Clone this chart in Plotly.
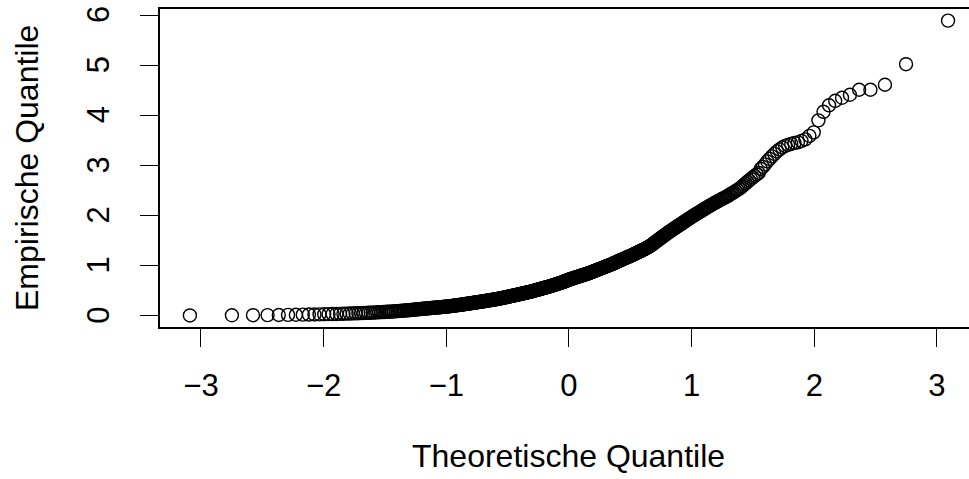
import plotly.graph_objects as go
from statistics import NormalDist

empirical = [
    0.006, 0.009, 0.011, 0.013, 0.015, 0.017, 0.019, 0.021, 0.023, 0.025,
    0.027, 0.029, 0.031, 0.033, 0.035, 0.037, 0.039, 0.041, 0.043, 0.046,
    0.048, 0.050, 0.052, 0.054, 0.056, 0.058, 0.060, 0.062, 0.064, 0.067,
    0.069, 0.071, 0.073, 0.075, 0.078, 0.080, 0.082, 0.084, 0.086, 0.089,
    0.092, 0.094, 0.097, 0.099, 0.102, 0.104, 0.107, 0.109, 0.112, 0.114,
    0.117, 0.120, 0.123, 0.126, 0.128, 0.131, 0.133, 0.136, 0.138, 0.141,
    0.143, 0.145, 0.147, 0.150, 0.152, 0.154, 0.156, 0.158, 0.160, 0.162,
    0.164, 0.166, 0.168, 0.170, 0.172, 0.174, 0.176, 0.178, 0.180, 0.182,
    0.184, 0.187, 0.189, 0.192, 0.194, 0.197, 0.199, 0.202, 0.204, 0.207,
    0.209, 0.212, 0.214, 0.217, 0.220, 0.222, 0.225, 0.228, 0.230, 0.233,
    0.236, 0.238, 0.241, 0.243, 0.246, 0.248, 0.251, 0.253, 0.256, 0.258,
    0.261, 0.263, 0.266, 0.268, 0.271, 0.273, 0.276, 0.278, 0.281, 0.283,
    0.286, 0.288, 0.291, 0.293, 0.296, 0.298, 0.301, 0.303, 0.306, 0.308,
    0.311, 0.313, 0.316, 0.318, 0.321, 0.323, 0.326, 0.328, 0.331, 0.333,
    0.336, 0.339, 0.342, 0.345, 0.348, 0.351, 0.354, 0.357, 0.360, 0.363,
    0.366, 0.369, 0.372, 0.375, 0.378, 0.381, 0.384, 0.387, 0.390, 0.393,
    0.396, 0.399, 0.402, 0.405, 0.408, 0.411, 0.414, 0.417, 0.420, 0.423,
    0.426, 0.429, 0.432, 0.435, 0.438, 0.441, 0.444, 0.447, 0.450, 0.453,
    0.456, 0.459, 0.462, 0.465, 0.468, 0.471, 0.474, 0.477, 0.480, 0.483,
    0.487, 0.490, 0.494, 0.497, 0.501, 0.504, 0.508, 0.511, 0.515, 0.518,
    0.522, 0.525, 0.529, 0.532, 0.536, 0.539, 0.543, 0.546, 0.550, 0.553,
    0.557, 0.560, 0.564, 0.567, 0.571, 0.574, 0.578, 0.581, 0.585, 0.588,
    0.592, 0.596, 0.600, 0.604, 0.608, 0.612, 0.616, 0.620, 0.624, 0.628,
    0.632, 0.636, 0.640, 0.644, 0.648, 0.652, 0.656, 0.660, 0.664, 0.668,
    0.672, 0.677, 0.682, 0.687, 0.692, 0.697, 0.702, 0.707, 0.712, 0.717,
    0.722, 0.726, 0.730, 0.734, 0.738, 0.742, 0.746, 0.750, 0.754, 0.758,
    0.762, 0.766, 0.770, 0.774, 0.778, 0.782, 0.786, 0.790, 0.794, 0.798,
    0.802, 0.806, 0.810, 0.814, 0.818, 0.822, 0.826, 0.830, 0.834, 0.838,
    0.842, 0.846, 0.850, 0.855, 0.860, 0.865, 0.870, 0.875, 0.880, 0.885,
    0.890, 0.895, 0.900, 0.905, 0.910, 0.915, 0.920, 0.925, 0.930, 0.935,
    0.940, 0.945, 0.950, 0.955, 0.960, 0.965, 0.970, 0.975, 0.980, 0.985,
    0.990, 0.995, 1.000, 1.005, 1.010, 1.015, 1.020, 1.025, 1.030, 1.036,
    1.042, 1.048, 1.054, 1.060, 1.066, 1.072, 1.078, 1.084, 1.090, 1.096,
    1.102, 1.108, 1.114, 1.120, 1.126, 1.132, 1.138, 1.144, 1.150, 1.156,
    1.162, 1.168, 1.174, 1.180, 1.186, 1.192, 1.198, 1.204, 1.210, 1.217,
    1.224, 1.231, 1.238, 1.245, 1.252, 1.259, 1.266, 1.273, 1.280, 1.287,
    1.294, 1.301, 1.308, 1.315, 1.322, 1.330, 1.338, 1.346, 1.354, 1.362,
    1.370, 1.380, 1.390, 1.400, 1.410, 1.420, 1.432, 1.444, 1.456, 1.468,
    1.480, 1.492, 1.504, 1.516, 1.528, 1.540, 1.552, 1.564, 1.576, 1.588,
    1.600, 1.612, 1.624, 1.636, 1.648, 1.660, 1.672, 1.684, 1.696, 1.708,
    1.720, 1.732, 1.744, 1.756, 1.768, 1.780, 1.792, 1.804, 1.816, 1.828,
    1.840, 1.853, 1.866, 1.879, 1.892, 1.905, 1.918, 1.931, 1.944, 1.957,
    1.970, 1.983, 1.996, 2.009, 2.022, 2.035, 2.048, 2.061, 2.074, 2.087,
    2.100, 2.114, 2.128, 2.142, 2.156, 2.170, 2.184, 2.198, 2.212, 2.226,
    2.240, 2.254, 2.268, 2.282, 2.296, 2.310, 2.324, 2.338, 2.352, 2.366,
    2.380, 2.398, 2.416, 2.434, 2.452, 2.470, 2.490, 2.510, 2.530, 2.550,
    2.580, 2.610, 2.640, 2.670, 2.700, 2.730, 2.760, 2.790, 2.820, 2.850,
    2.930, 2.970, 3.020, 3.080, 3.130, 3.180, 3.230, 3.280, 3.320, 3.360,
    3.390, 3.410, 3.430, 3.450, 3.460, 3.490, 3.520, 3.590, 3.660, 3.900,
    4.070, 4.200, 4.290, 4.350, 4.410, 4.510, 4.510, 4.610, 5.020, 5.890,
]

# Theoretical normal quantiles, as R's qqnorm computes them (ppoints, a = 0.5)
n = len(empirical)
nd = NormalDist()
theoretical = [nd.inv_cdf((i + 0.5) / n) for i in range(n)]

x_ticks = [-3, -2, -1, 0, 1, 2, 3]
x_tick_labels = ["\u22123", "\u22122", "\u22121", "0", "1", "2", "3"]
y_ticks = [0, 1, 2, 3, 4, 5, 6]
y_tick_labels = ["0", "1", "2", "3", "4", "5", "6"]

x_title = "Theoretische Quantile"
y_title = "Empirische Quantile"

FONT = "Liberation Sans, Arial, Helvetica, sans-serif"

fig = go.Figure()
fig.add_trace(go.Scatter(
    x=theoretical, y=empirical, mode="markers",
    marker=dict(symbol="circle-open", size=13, color="black",
                line=dict(width=1.4, color="black")),
    showlegend=False, hoverinfo="skip",
))

# Plot region at x 160..969, y 9..327 of the 969x479 window
fig.update_layout(
    width=969, height=479,
    margin=dict(l=160, r=0, t=9, b=152, pad=0, autoexpand=False),
    paper_bgcolor="white", plot_bgcolor="white",
    font=dict(family=FONT, color="black", size=31),
    hovermode=False,
    xaxis=dict(
        range=[-3.334, 3.261], tickmode="array", tickvals=x_ticks,
        ticktext=x_tick_labels, ticks="outside", ticklen=18, tickwidth=1.4,
        tickcolor="black", showgrid=False, zeroline=False,
        showline=True, linecolor="black", linewidth=1.5, mirror=True,
        tickfont=dict(size=31), ticklabelstandoff=12,
        ticklabeloverflow="allow", automargin=False,
    ),
    yaxis=dict(
        range=[-0.225, 6.122], tickmode="array", tickvals=y_ticks,
        ticktext=y_tick_labels, ticks="outside", ticklen=18, tickwidth=1.4,
        tickcolor="black", showgrid=False, zeroline=False,
        showline=True, linecolor="black", linewidth=1.5, mirror=False,
        tickangle=-90, tickfont=dict(size=31), ticklabelstandoff=19,
        ticklabelshift=4,
        ticklabeloverflow="allow", automargin=False,
    ),
    annotations=[
        dict(text=x_title, x=0, xref="x", y=0, yref="paper",
             yanchor="middle", xanchor="center", yshift=-129,
             showarrow=False, font=dict(size=32)),
        dict(text=y_title, x=0, xref="paper", y=0.5, yref="paper",
             xanchor="center", yanchor="middle", xshift=-133,
             textangle=-90, showarrow=False, font=dict(size=32)),
    ],
)

# Remove the browser's default 8px body margin so the figure sits at (0, 0)
fig.write_html(
    "out.html",
    config={"displayModeBar": False},
    post_script="document.body.style.margin='0';document.body.style.overflow='hidden';",
)
